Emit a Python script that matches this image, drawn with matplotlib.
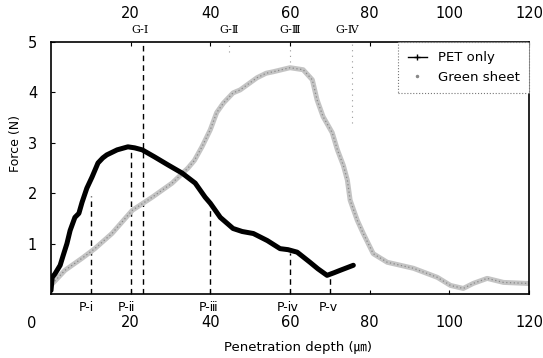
import matplotlib
matplotlib.use("Agg")
import matplotlib.pyplot as plt
from matplotlib.lines import Line2D

plt.rcParams['font.family'] = ['DejaVu Sans', 'Noto Sans CJK KR']

# ---- data ----
pet_x = [0, 0.3, 1, 2.3, 3, 4, 4.8, 6, 7, 7.8, 9, 10.3, 11.8, 13, 14, 16.6, 19.3,
         21, 22.9, 26, 29.4, 32.9, 36.2, 38.7, 40, 42.5, 45.7, 48, 50.8, 54.3,
         57.5, 59.5, 61.8, 65, 67, 69.3, 71, 72.6, 75.9]
pet_y = [0.07, 0.33, 0.4, 0.57, 0.75, 1.0, 1.26, 1.52, 1.6, 1.82, 2.1, 2.32, 2.6,
         2.7, 2.76, 2.86, 2.92, 2.9, 2.86, 2.72, 2.56, 2.4, 2.2, 1.92, 1.8, 1.52,
         1.3, 1.24, 1.2, 1.06, 0.9, 0.88, 0.83, 0.63, 0.5, 0.37, 0.42, 0.47, 0.57]

green_x = [0.3, 3.5, 7.8, 11, 15.3, 20.4, 25.4, 30.4, 32.4, 34.4, 36, 37.9, 40,
           41.6, 43.3, 45.7, 47.5, 51.7, 54, 55.8, 60, 63.3, 65.6, 66.8, 68.3,
           70.6, 71.9, 73.4, 74.4, 75.1, 76.9, 78.4, 80.9, 84.4, 91, 97, 100.3,
           103.5, 106, 109.5, 113.6, 119.6]
green_y = [0.2, 0.47, 0.71, 0.9, 1.2, 1.66, 1.92, 2.2, 2.35, 2.5, 2.65, 2.92, 3.26,
           3.6, 3.79, 3.99, 4.05, 4.29, 4.38, 4.41, 4.49, 4.45, 4.25, 3.85, 3.52,
           3.2, 2.86, 2.55, 2.26, 1.86, 1.46, 1.2, 0.8, 0.63, 0.51, 0.33, 0.17,
           0.11, 0.21, 0.31, 0.23, 0.21]

x_ticks = [20, 40, 60, 80, 100, 120]
y_ticks = [1, 2, 3, 4, 5]

p_labels = ['P-ⅰ', 'P-ⅱ', 'P-ⅲ', 'P-ⅳ', 'P-ⅴ']
p_x = [10, 20, 40, 60, 70]
p_top = [1.95, 2.85, 1.72, 0.82, 0.33]
p_label_x = [9, 19, 39.5, 59.5, 69.5]

g_labels = ['G-Ⅰ', 'G-Ⅱ', 'G-Ⅲ', 'G-Ⅳ']
g_label_x = [22.4, 44.7, 60, 74.4]
g_x = [23, 44.7, 60, 75.6]
g_bottom = [0, 4.8, 4.6, 3.4]

# ---- figure ----
W, H = 543, 358
fig = plt.figure(figsize=(W / 100, H / 100), dpi=100)
ax = fig.add_axes([51 / W, 1 - 294 / H, (529 - 51) / W, (294 - 42) / H])
ax.set_xlim(0, 120)
ax.set_ylim(0, 5)

# green sheet curve
ax.plot(green_x, green_y, color='#c4c4c4', lw=3.6, solid_joinstyle='round', zorder=2)
ax.plot(green_x, green_y, color='#8a8a8a', lw=0.9, ls=(0, (1, 2)), zorder=3)
# PET curve
ax.plot(pet_x, pet_y, color='black', lw=3.6, solid_joinstyle='round',
        solid_capstyle='round', zorder=4)

# P lines
for xv, top in zip(p_x, p_top):
    ax.plot([xv, xv], [0, top], color='black', lw=1.0, ls=(0, (4, 3)), zorder=1)
# G lines
for i, (xv, bot) in enumerate(zip(g_x, g_bottom)):
    if i == 0:
        ax.plot([xv, xv], [bot, 5], color='black', lw=1.0, ls=(0, (4, 3)), zorder=1)
    else:
        ax.plot([xv, xv], [bot, 5], color='#999999', lw=0.8, ls=(0, (1, 4)), zorder=1)

for sp in ax.spines.values():
    sp.set_linewidth(1.2)

ax.set_xticks(x_ticks)
ax.set_yticks(y_ticks)
ax.tick_params(axis='both', direction='in', length=3, width=0.8, labelsize=10.5)
ax.tick_params(axis='x', pad=15, top=True, labeltop=True, bottom=True)
ax.tick_params(axis='y', pad=10)


def px(xp, yp):
    return xp / W, 1 - yp / H


# P labels
for lab, xv in zip(p_labels, p_label_x):
    ax.text(xv, -0.26, lab, ha='center', va='center', fontsize=9,
            family=['DejaVu Sans', 'Noto Sans CJK KR'], clip_on=False)
# G labels
for lab, xv in zip(g_labels, g_label_x):
    ax.text(xv, 5.24, lab, ha='center', va='center', fontsize=8,
            family=['DejaVu Serif', 'Noto Sans CJK KR'], clip_on=False)

fig.text(*px(32, 323), '0', ha='center', va='center', fontsize=10.5)
fig.text(*px(298, 348), 'Penetration depth (㎛)', ha='center', va='center', fontsize=9.5,
         family=['DejaVu Sans', 'Noto Sans CJK KR'])
fig.text(*px(16, 143), 'Force (N)', ha='center', va='center', fontsize=9,
         rotation=90)

handles = [Line2D([], [], color='black', lw=1, marker='+', markersize=5),
           Line2D([], [], color='#888888', lw=0, marker='.', markersize=3)]
leg = ax.legend(handles, ['PET only', 'Green sheet'], loc='upper right',
                bbox_to_anchor=(1.0, 1.0), borderaxespad=0, fontsize=9.5,
                fancybox=False, framealpha=1, handlelength=1.5,
                borderpad=0.7, labelspacing=0.5, handletextpad=0.8)
fr = leg.get_frame()
fr.set_edgecolor('#777777')
fr.set_linestyle(':')
fr.set_linewidth(0.8)

fig.savefig('out.png', dpi=100)
